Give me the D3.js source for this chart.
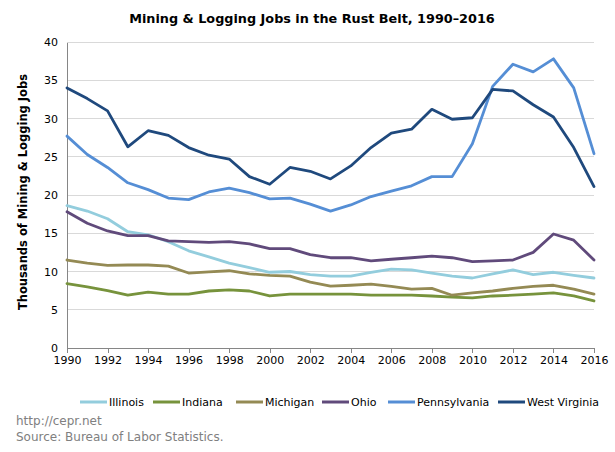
<!DOCTYPE html>
<html><head><meta charset="utf-8">
<script src="https://cdn.jsdelivr.net/npm/d3@7"></script>
<style>body{margin:0;background:#fff}svg{display:block;font-family:"DejaVu Sans",Verdana,sans-serif}</style>
</head><body>
<svg id="c" width="615" height="452"></svg>
<script>
const years = d3.range(1990, 2017);
const xTicks = d3.range(1990, 2017, 2);
const yTicks = [0,5,10,15,20,25,30,35,40];
const seriesNames = ["Illinois","Indiana","Michigan","Ohio","Pennsylvania","West Virginia"];
const seriesColors = ["#93cddd","#77933c","#948a54","#604a7b","#558ed5","#1f497d"];
const illinois = [18.6,17.9,16.9,15.2,14.8,13.9,12.7,11.9,11.1,10.5,9.9,10.0,9.6,9.4,9.4,9.9,10.3,10.2,9.8,9.4,9.15,9.7,10.2,9.6,9.9,9.5,9.15];
const indiana = [8.4,8.0,7.5,6.9,7.3,7.05,7.05,7.45,7.6,7.45,6.8,7.05,7.05,7.05,7.05,6.9,6.9,6.9,6.8,6.65,6.55,6.8,6.9,7.05,7.2,6.8,6.15];
const michigan = [11.5,11.1,10.8,10.85,10.85,10.7,9.8,9.95,10.1,9.7,9.5,9.4,8.6,8.1,8.2,8.35,8.05,7.7,7.8,6.9,7.2,7.45,7.8,8.05,8.2,7.7,7.05];
const ohio = [17.8,16.3,15.3,14.7,14.7,14.0,13.9,13.8,13.9,13.6,13.0,13.0,12.2,11.8,11.8,11.4,11.6,11.8,12.0,11.8,11.3,11.4,11.5,12.5,14.9,14.1,11.5];
const pennsylvania = [27.7,25.3,23.6,21.6,20.7,19.6,19.4,20.4,20.9,20.3,19.5,19.6,18.8,17.9,18.7,19.8,20.5,21.2,22.4,22.4,26.7,34.2,37.1,36.1,37.8,34.0,25.4];
const westVirginia = [34.0,32.6,31.0,26.3,28.4,27.8,26.2,25.2,24.7,22.4,21.4,23.6,23.1,22.1,23.8,26.2,28.1,28.6,31.2,29.9,30.1,33.8,33.6,31.8,30.2,26.2,21.1];
const seriesValues = [illinois, indiana, michigan, ohio, pennsylvania, westVirginia];

const svg = d3.select("#c");
const x = d3.scaleLinear().domain([1990, 2016]).range([67, 594]);
const y = d3.scaleLinear().domain([0, 40]).range([348, 42]);

svg.append("text").attr("x", 312).attr("y", 23).attr("text-anchor","middle")
  .attr("font-weight","bold").attr("font-size",12.8).attr("fill","#000")
  .text("Mining & Logging Jobs in the Rust Belt, 1990\u20132016");

// gridlines
svg.append("g").selectAll("line").data(yTicks.filter(d=>d>0)).join("line")
  .attr("x1", x(1990)).attr("x2", x(2016)).attr("y1", d=>y(d)).attr("y2", d=>y(d))
  .attr("stroke","#d9d9d9").attr("stroke-width",1).attr("shape-rendering","crispEdges");

// y axis
const ya = svg.append("g").attr("transform",`translate(${x(1990)},0)`)
  .call(d3.axisLeft(y).tickValues(yTicks).tickSize(0).tickPadding(9));
ya.select(".domain").attr("stroke","#868686").attr("shape-rendering","crispEdges");
ya.selectAll("text").attr("font-size",11).attr("fill","#000").attr("font-family","DejaVu Sans, Verdana, sans-serif");

// x axis
const xa = svg.append("g").attr("transform",`translate(0,${y(0)})`)
  .call(d3.axisBottom(x).tickValues(xTicks).tickFormat(d3.format("d")).tickSize(5).tickSizeOuter(0).tickPadding(3));
xa.select(".domain").attr("stroke","#868686").attr("shape-rendering","crispEdges");
xa.selectAll("line").attr("stroke","#868686").attr("shape-rendering","crispEdges");
xa.selectAll("text").attr("font-size",11).attr("fill","#000").attr("font-family","DejaVu Sans, Verdana, sans-serif");

svg.append("text").attr("transform","translate(27,192) rotate(-90)").attr("text-anchor","middle")
  .attr("font-weight","bold").attr("font-size",11.5).attr("fill","#000")
  .text("Thousands of Mining & Logging Jobs");

const line = d3.line().x((d,i)=>x(years[i])).y(d=>y(d));
svg.append("g").selectAll("path").data(seriesValues).join("path")
  .attr("d", line).attr("fill","none").attr("stroke",(d,i)=>seriesColors[i])
  .attr("stroke-width",2.8).attr("stroke-linejoin","round").attr("stroke-linecap","round");

// legend
const legX = [80,153,236,322,388,498];
const lg = svg.append("g").selectAll("g").data(seriesNames).join("g")
  .attr("transform",(d,i)=>`translate(${legX[i]},402)`);
lg.append("line").attr("x1",0).attr("x2",27).attr("stroke",(d,i)=>seriesColors[i]).attr("stroke-width",3);
lg.append("text").attr("x",29).attr("y",4).attr("font-size",11).attr("fill","#000").text(d=>d);

svg.append("text").attr("x",16).attr("y",425).attr("font-size",12).attr("fill","#808080").text("http://cepr.net");
svg.append("text").attr("x",16).attr("y",441).attr("font-size",12).attr("fill","#808080").text("Source: Bureau of Labor Statistics.");
</script>
</body></html>
